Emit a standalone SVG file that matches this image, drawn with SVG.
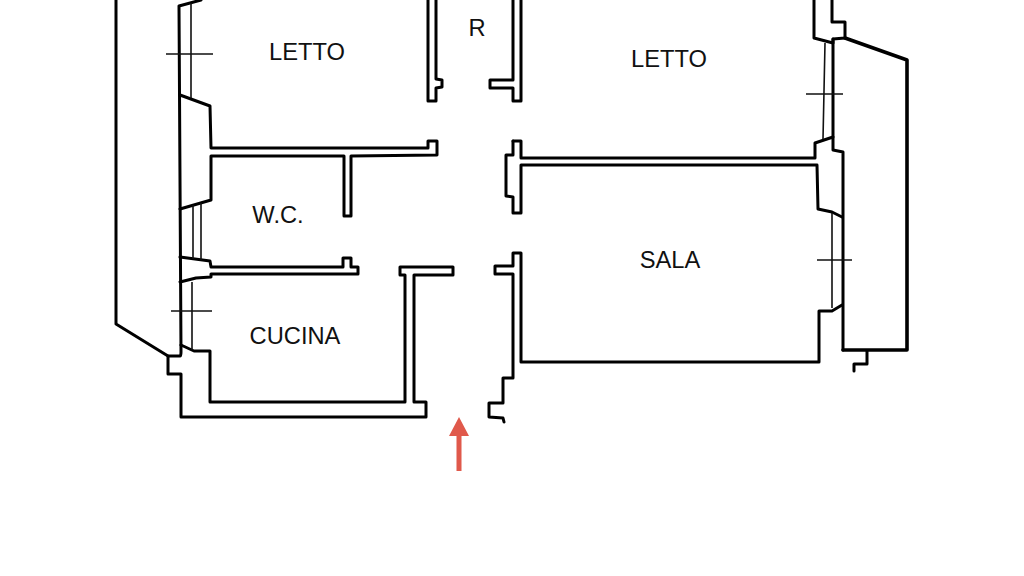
<svg xmlns="http://www.w3.org/2000/svg" width="1024" height="576" viewBox="0 0 1024 576">
<style>
.w{fill:none;stroke:#000;stroke-width:3;stroke-linejoin:round;stroke-linecap:round}
.h{fill:none;stroke:#000;stroke-width:3.6;stroke-linejoin:round;stroke-linecap:round}
.t{fill:none;stroke:#111;stroke-width:1.6;stroke-linecap:butt}
text{font-family:"Liberation Sans",Arial,sans-serif;font-size:23.7px;fill:#111;text-anchor:middle}
</style>
<rect width="1024" height="576" fill="#fff"/>
<g id="walls">
<path class="w" d="M116 0V324L168 356H180Q181 356 181 352L179 6 201 0"/>
<path class="w" d="M168 356V374H181V417H426V402H414V275H453V267H400V275H405V402H210V351H194L181 345"/>
<path class="w" d="M180 95 210 106 211 148H428V141H437V155L351 156V216H344V156H211V200L180 209"/>
<path class="w" d="M180 257 210 261 211 267H343V258H351V267H358V274H211V277L196 278 180 282"/>
<path class="w" d="M428 0V101H436V88L442 87V80L436 79V0"/>
<path class="w" d="M521 0V101H513V88H490V80H513V0"/>
<path class="w" d="M513 141H521V158H815V143L833 137V150L843 152V350"/>
<path class="w" d="M513 141V155H506V196L513 197V213H521V165H817L818 209 832 212 842 217"/>
<path class="w" d="M842 305 832 311H819V362H521V253H513V266H495V274H513L513 378H503V403H489V417L503 418 504 422"/>
<path class="w" d="M814 0V38L833 43V39L845 38V22H832V0"/>
<path class="w" d="M833 39V137"/>
<path class="h" d="M845 38 907 60V350H843"/>
<path class="w" d="M867 351V364H854V371"/>
</g>
<g id="windows">
<path class="t" d="M191 3V98M193 205V259M201 203V260M192 282V350M825 43 823 139M832 213V308"/>
<path class="t" d="M166 54H213M171 311H212M806 94H843M817 260H852"/>
</g>
<g id="labels">
<text x="307" y="60">LETTO</text>
<text x="669" y="67">LETTO</text>
<text x="477" y="36">R</text>
<text x="278" y="223">W.C.</text>
<text x="295" y="344">CUCINA</text>
<text x="670" y="268">SALA</text>
</g>
<g id="arrow">
<path fill="#E0594B" d="M459 417 469 436H461.500V471H456.500V436H449Z"/>
</g>
</svg>
